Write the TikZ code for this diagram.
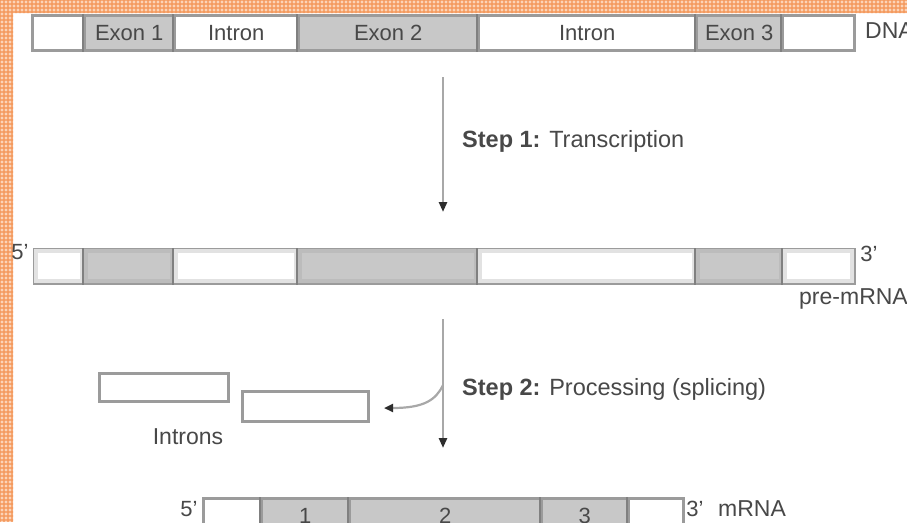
\documentclass[tikz,border=0pt]{standalone}
\usepackage{fontspec}
\setmainfont{Liberation Sans}
\usetikzlibrary{arrows.meta}
\definecolor{bordc}{RGB}{155,155,155}
\definecolor{divc}{RGB}{128,128,128}
\definecolor{exonc}{RGB}{200,200,200}
\definecolor{bandw}{RGB}{226,226,226}
\definecolor{bandg}{RGB}{188,188,188}
\definecolor{txtc}{RGB}{72,72,72}
\definecolor{arrc}{RGB}{168,168,168}
\definecolor{tipc}{RGB}{45,45,45}
\definecolor{orl}{RGB}{252,212,184}
\definecolor{ord}{RGB}{244,150,88}
\newcommand{\prm}{\char"27}
\begin{document}
\begin{tikzpicture}[x=1pt,y=-1pt,
  segbase/.style={draw=bordc, line width=2.5pt, inner sep=0pt, anchor=north west,
    font=\fontsize{22}{22}\selectfont, text=txtc},
  dnaseg/.style={segbase, minimum height=35pt},
  preseg/.style={segbase, minimum height=34pt},
  mseg/.style={segbase, minimum height=35pt},
  exon/.style={fill=exonc},
  plain/.style={fill=white},
  divline/.style={draw=divc, line width=2.5pt},
  lbl/.style={inner sep=0pt, text=txtc, font=\fontsize{23}{23}\selectfont},
  steplbl/.style={lbl, font=\fontsize{23.5}{23.5}\selectfont},
  steparrow/.style={draw=arrc, line width=2.6pt, -{Triangle[length=10pt,width=8pt,color=tipc]}},
  introbox/.style={draw=bordc, line width=2.5pt, fill=white, inner sep=0pt, anchor=north west}
]
\useasboundingbox (0,0) rectangle (907,522);
\fill[white] (0,0) rectangle (907,522);
% orange plaid border
\begin{scope}
  \clip (0,0) rectangle (907,13) (0,0) rectangle (13,522);
  \fill[orl] (0,0) rectangle (907,522);
  \foreach \i in {0,4,...,907} {\draw[ord, line width=1.1pt, opacity=0.7] (\i,0) -- (\i,522);}
  \foreach \j in {0,4,...,522} {\draw[ord, line width=1.1pt, opacity=0.7] (0,\j) -- (907,\j);}
\end{scope}

% DNA bar
\node[dnaseg, plain, minimum width=52pt]  (d0) at (31,14) {};
\node[dnaseg, exon,  minimum width=90pt]  (d1) at (83,14) {Exon 1};
\node[dnaseg, plain, minimum width=124pt] (d2) at (173,14) {Intron};
\node[dnaseg, exon,  minimum width=180pt] (d3) at (297,14) {Exon 2};
\node[dnaseg, plain, minimum width=218pt] (d4) at (477,14) {Intron};
\node[dnaseg, exon,  minimum width=86pt]  (d5) at (695,14) {Exon 3};
\node[dnaseg, plain, minimum width=72pt]  (d6) at (781,14) {};
\foreach \n in {d1,d2,d3,d4,d5,d6} {\draw[divline] (\n.north west) -- (\n.south west);}
\node[lbl, anchor=west] (dnal) at (865,31) {DNA};

% Step 1 arrow
\coordinate (s1a) at (443,77);
\coordinate (s1b) at (443,212);
\draw[steparrow] (s1a) -- (s1b);
\node[steplbl, anchor=west] (s1t) at (462,141) {\textbf{Step 1:} Transcription};

% pre-mRNA bar
\node[preseg, plain, minimum width=50pt]  (p0) at (33,248) {};
\node[preseg, exon,  minimum width=90pt]  (p1) at (83,248) {};
\node[preseg, plain, minimum width=124pt] (p2) at (173,248) {};
\node[preseg, exon,  minimum width=180pt] (p3) at (297,248) {};
\node[preseg, plain, minimum width=218pt] (p4) at (477,248) {};
\node[preseg, exon,  minimum width=87pt]  (p5) at (695,248) {};
\node[preseg, plain, minimum width=71pt]  (p6) at (782,248) {};
\foreach \n/\c in {p0/bandw,p1/bandg,p2/bandw,p3/bandg,p4/bandw,p5/bandg,p6/bandw}
  {\draw[\c, line width=4pt] ([shift={(3.3,3.3)}]\n.north west) rectangle ([shift={(-3.3,-3.3)}]\n.south east);}
\foreach \n in {p1,p2,p3,p4,p5,p6} {\draw[divline] (\n.north west) -- (\n.south west);}
\node[lbl, font=\fontsize{22}{22}\selectfont] (p5l) at (20,252) {5\prm};
\node[lbl, font=\fontsize{22}{22}\selectfont] (p3l) at (869,254) {3\prm};
\node[lbl, anchor=west] (prel) at (799,299) {pre-mRNA};

% Step 2 arrow
\coordinate (s2a) at (443,319);
\coordinate (s2b) at (443,448);
\coordinate (s2c) at (443,385);
\coordinate (s2d) at (384,408);
\draw[steparrow] (s2a) -- (s2b);
\draw[draw=arrc, line width=2.2pt, -{Triangle[length=9pt,width=8pt,color=tipc]}]
  (s2c) .. controls (436,400) and (424,408) .. (s2d);
\node[steplbl, anchor=west] (s2t) at (462,389) {\textbf{Step 2:} Processing (splicing)};

% excised introns
\node[introbox, minimum width=129pt, minimum height=28pt] (i1) at (98,372) {};
\node[introbox, minimum width=126pt, minimum height=30pt] (i2) at (241,390) {};
\node[lbl] (intl) at (188,437) {Introns};

% mRNA bar
\node[mseg, plain, minimum width=58pt]  (m0) at (202,497) {};
\node[mseg, exon,  minimum width=88pt]  (m1) at (260,497) {1};
\node[mseg, exon,  minimum width=192pt] (m2) at (348,497) {2};
\node[mseg, exon,  minimum width=87pt]  (m3) at (540,497) {3};
\node[mseg, plain, minimum width=55pt]  (m4) at (627,497) {};
\foreach \n in {m1,m2,m3,m4} {\draw[divline] (\n.north west) -- (\n.south west);}
\node[lbl, font=\fontsize{22}{22}\selectfont] (m5l) at (189,509) {5\prm};
\node[lbl, font=\fontsize{22}{22}\selectfont] (m3l) at (695,509) {3\prm};
\node[lbl, anchor=west] (ml) at (718,509) {mRNA};
\end{tikzpicture}
\end{document}
